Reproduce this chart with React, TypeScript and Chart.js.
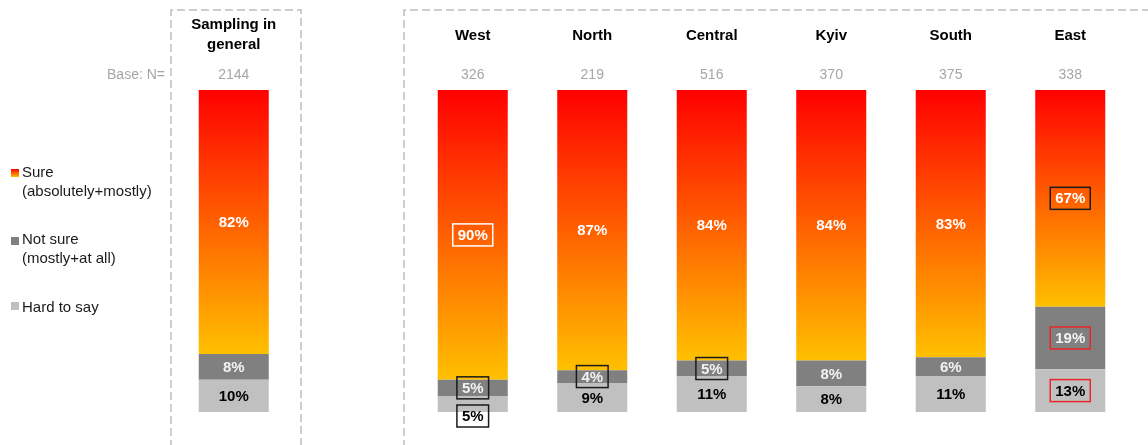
import { useEffect, useRef } from "react";
import { Chart, registerables } from "chart.js";

Chart.register(...registerables);

const FONT = '"Liberation Sans", Arial, sans-serif';

// ---- Data ----
const categories: string[][] = [
  ["Sampling in", "general"],
  [""],
  ["West"],
  ["North"],
  ["Central"],
  ["Kyiv"],
  ["South"],
  ["East"],
];
const baseN: (number | null)[] = [2144, null, 326, 219, 516, 370, 375, 338];
const sure: (number | null)[] = [82, null, 90, 87, 84, 84, 83, 67.3];
const notSure: (number | null)[] = [8, null, 5, 4, 5, 8, 6, 19.4];
const hardToSay: (number | null)[] = [10, null, 5, 9, 11, 8, 11, 13.3];

const seriesNames = ["Hard to say", "Not sure", "Sure"];
const legendLines: string[][] = [
  ["Sure", "(absolutely+mostly)"],
  ["Not sure", "(mostly+at all)"],
  ["Hard to say"],
];

// Highlighted labels: key = "<datasetIndex>-<categoryIndex>"
const highlight: Record<string, { color: string; below?: boolean }> = {
  "2-2": { color: "#FFFFFF" },
  "1-2": { color: "#1A1A1A" },
  "0-2": { color: "#1A1A1A", below: true },
  "1-3": { color: "#1A1A1A" },
  "1-4": { color: "#1A1A1A" },
  "2-7": { color: "#1A1A1A" },
  "1-7": { color: "#E8262B" },
  "0-7": { color: "#E8262B" },
};

const RED = "#FF0000";
const YELLOW = "#FFC000";
const DARK = "#808080";
const LIGHT = "#C0C0C0";

function sureGradient(chart: any, i: number) {
  const { chartArea, scales } = chart;
  if (!chartArea || !scales.y) return "#FF6000";
  const start = (hardToSay[i] ?? 0) + (notSure[i] ?? 0);
  const end = start + (sure[i] ?? 0);
  const yTop = scales.y.getPixelForValue(end);
  const yBot = scales.y.getPixelForValue(start);
  const g = chart.ctx.createLinearGradient(0, yTop, 0, yBot);
  g.addColorStop(0, RED);
  g.addColorStop(1, YELLOW);
  return g;
}

const decorPlugin = {
  id: "decor",
  beforeDraw(chart: any) {
    const ctx = chart.ctx as CanvasRenderingContext2D;
    const xs = chart.scales.x;
    ctx.save();
    ctx.fillStyle = "#FFFFFF";
    ctx.fillRect(0, 0, chart.width, chart.height);

    // dashed frames
    ctx.strokeStyle = "#BFBFBF";
    ctx.lineWidth = 1.5;
    ctx.setLineDash([8, 4]);
    ctx.beginPath();
    ctx.moveTo(171, 460);
    ctx.lineTo(171, 10);
    ctx.lineTo(301, 10);
    ctx.lineTo(301, 460);
    ctx.stroke();
    ctx.beginPath();
    ctx.moveTo(404, 460);
    ctx.lineTo(404, 10);
    ctx.lineTo(1160, 10);
    ctx.stroke();
    ctx.setLineDash([]);

    // headers
    ctx.textAlign = "center";
    ctx.textBaseline = "alphabetic";
    ctx.fillStyle = "#000000";
    ctx.font = `bold 15px ${FONT}`;
    categories.forEach((lines, i) => {
      const x = xs.getPixelForValue(i);
      if (lines.length === 1) {
        ctx.fillText(lines[0], x, 40);
      } else {
        lines.forEach((l, k) => ctx.fillText(l, x, 29 + k * 20));
      }
    });
    ctx.font = `14px ${FONT}`;
    ctx.fillStyle = "#A6A6A6";
    baseN.forEach((n, i) => {
      if (n == null) return;
      ctx.fillText(String(n), xs.getPixelForValue(i), 79);
    });
    ctx.textAlign = "right";
    ctx.fillText("Base: N=", 165, 79);

    // legend
    ctx.textAlign = "left";
    ctx.font = `15px ${FONT}`;
    ctx.fillStyle = "#1A1A1A";
    const rows = [
      { y: 177, sq: 169 },
      { y: 244, sq: 237 },
      { y: 312, sq: 302 },
    ];
    legendLines.forEach((lines, k) => {
      const r = rows[k];
      if (k === 0) {
        const g = ctx.createLinearGradient(0, r.sq, 0, r.sq + 8);
        g.addColorStop(0, RED);
        g.addColorStop(1, YELLOW);
        ctx.fillStyle = g;
      } else {
        ctx.fillStyle = k === 1 ? DARK : LIGHT;
      }
      ctx.fillRect(11, r.sq, 8, 8);
      ctx.fillStyle = "#1A1A1A";
      lines.forEach((l, j) => ctx.fillText(l, 22, r.y + j * 19));
    });
    ctx.restore();
  },
  afterDatasetsDraw(chart: any) {
    const ctx = chart.ctx as CanvasRenderingContext2D;
    ctx.save();
    ctx.font = `bold 15px ${FONT}`;
    ctx.textAlign = "center";
    ctx.textBaseline = "middle";
    chart.data.datasets.forEach((ds: any, di: number) => {
      const meta = chart.getDatasetMeta(di);
      meta.data.forEach((el: any, i: number) => {
        const v = ds.data[i];
        if (v == null) return;
        const txt = Math.round(v) + "%";
        const key = `${di}-${i}`;
        const h = highlight[key];
        let y = (el.y + el.base) / 2;
        if (h && h.below) y = el.base + 4;
        const x = el.x;
        ctx.fillStyle = di === 0 ? "#000000" : di === 1 ? "#F2F2F2" : "#FFFFFF";
        ctx.fillText(txt, x, y + 1);
        if (h) {
          const w = ctx.measureText(txt).width + 10;
          ctx.strokeStyle = h.color;
          ctx.lineWidth = 1.5;
          ctx.strokeRect(x - w / 2, y - 11, w, 22);
        }
      });
    });
    ctx.restore();
  },
};

export default function App() {
  const ref = useRef<HTMLCanvasElement>(null);
  useEffect(() => {
    const canvas = ref.current!;
    const common = { barPercentage: 1, categoryPercentage: 0.586, borderWidth: 0 };
    const chart = new Chart(canvas, {
      type: "bar",
      data: {
        labels: categories.map((c) => c.join(" ")),
        datasets: [
          { label: seriesNames[0], data: hardToSay, backgroundColor: LIGHT, ...common },
          { label: seriesNames[1], data: notSure, backgroundColor: DARK, ...common },
          {
            label: seriesNames[2],
            data: sure,
            backgroundColor: (c: any) => sureGradient(c.chart, c.dataIndex),
            ...common,
          },
        ] as any,
      },
      options: {
        animation: false,
        responsive: false,
        devicePixelRatio: 1,
        layout: { padding: { left: 174, right: 18, top: 90, bottom: 33 } },
        scales: {
          x: { display: false, stacked: true },
          y: { display: false, stacked: true, min: 0, max: 100 },
        },
        plugins: { legend: { display: false }, tooltip: { enabled: false } },
      },
      plugins: [decorPlugin],
    });
    return () => chart.destroy();
  }, []);
  return (
    <div style={{ position: "absolute", left: 0, top: 0, width: 1148, height: 445, background: "#fff" }}>
      <canvas ref={ref} width={1148} height={445} style={{ display: "block" }} />
    </div>
  );
}
